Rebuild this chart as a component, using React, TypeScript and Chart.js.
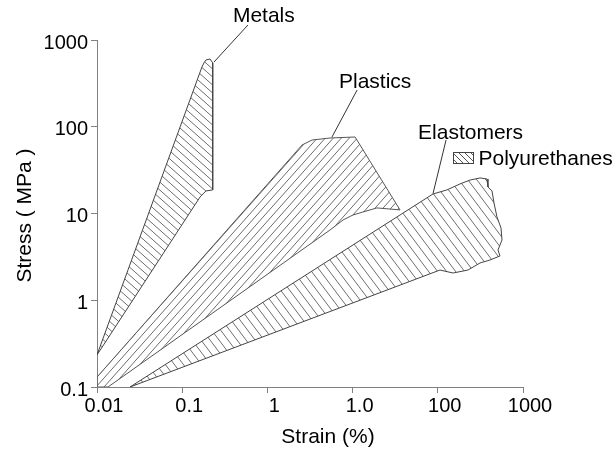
import React, { useEffect, useRef } from "react";
import { Chart, registerables } from "chart.js";

Chart.register(...registerables);

// ---------- axis ticks ----------
const X_TICKS = [0.01, 0.1, 1, 10, 100, 1000];
const X_TICK_LABELS = ["0.01", "0.1", "1", "1.0", "100", "1000"];
const Y_TICKS = [0.1, 1, 10, 100, 1000];
const Y_TICK_LABELS = ["0.1", "1", "10", "100", "1000"];

// ---------- region outlines (strain %, stress MPa) ----------
const METALS_X = [0.01, 0.1706, 0.18, 0.19, 0.212, 0.228, 0.228, 0.19, 0.162, 0.01];
const METALS_Y = [0.234, 489, 545, 588, 604, 545, 18.7, 18.2, 15.5, 0.234];

const PLASTICS_X = [0.01, 0.01, 2.11, 2.55, 3.34, 5.43, 10.7, 36.0, 19.3, 13.2, 10.1, 7.71, 5.43, 0.01346, 0.01];
const PLASTICS_Y = [0.1, 0.13, 49.8, 61.6, 70.3, 74.2, 76.2, 11.0, 11.6, 10.4, 9.61, 8.41, 6.45, 0.1, 0.1];

const ELASTOMERS_X = [0.0244, 87.9, 128, 182, 239, 313, 378, 388, 433, 457, 495, 552, 567, 509, 537, 410, 313, 226, 151, 106, 0.0244];
const ELASTOMERS_Y = [0.1, 16.8, 18.7, 21.9, 24.3, 25.7, 25.0, 20.2, 18.2, 13.2, 9.12, 6.81, 4.95, 3.8, 3.24, 2.91, 2.69, 2.23, 2.06, 2.23, 0.1];

// ---------- annotations (text anchor + leader line in data space) ----------
const ANNOTATION_TEXTS = ["Metals", "Plastics", "Elastomers"];
const ANNOTATION_TEXT_X = [0.394, 6.92, 58.6];
const ANNOTATION_TEXT_Y = [1891, 328, 84.7];
const LEADER_FROM_X = [0.591, 11.3, 125];
const LEADER_FROM_Y = [1489, 265, 70.3];
const LEADER_TO_X = [0.236, 5.73, 87.9];
const LEADER_TO_Y = [557, 76.2, 17];

const LEGEND_LABEL = "Polyurethanes";
const X_TITLE = "Strain (%)";
const Y_TITLE = "Stress ( MPa )";

const FONT_FAMILY = '"Liberation Sans", Arial, Helvetica, sans-serif';

function toPoints(xs: number[], ys: number[]) {
  return xs.map((x, i) => ({ x, y: ys[i] }));
}

function makeHatch(w: number, h: number, dir: "back" | "fwd", color: string) {
  const c = document.createElement("canvas");
  c.width = w;
  c.height = h;
  const g = c.getContext("2d")!;
  g.strokeStyle = color;
  g.lineWidth = 1;
  g.beginPath();
  for (const off of [-w, 0, w]) {
    if (dir === "back") {
      g.moveTo(off, 0);
      g.lineTo(off + w, h);
    } else {
      g.moveTo(off, h);
      g.lineTo(off + w, 0);
    }
  }
  g.stroke();
  return g.createPattern(c, "repeat")!;
}

export default function App() {
  const ref = useRef<HTMLCanvasElement | null>(null);

  useEffect(() => {
    document.body.style.margin = "0";
    const canvas = ref.current!;
    const hatchMetals = makeHatch(9, 8, "back", "#6e6e6e");
    const hatchPlastics = makeHatch(8, 9, "fwd", "#6e6e6e");
    const hatchElast = makeHatch(9, 12, "back", "#6e6e6e");
    const hatchLegend = makeHatch(6, 6, "back", "#555");

    const decor = {
      id: "decor",
      afterDraw(chart: any) {
        const { ctx, chartArea, scales } = chart;
        const xs = scales.x;
        const ys = scales.y;
        ctx.save();
        ctx.fillStyle = "#000";
        ctx.font = `21px ${FONT_FAMILY}`;
        // annotations
        ctx.textAlign = "left";
        ctx.textBaseline = "middle";
        ANNOTATION_TEXTS.forEach((t, i) => {
          ctx.fillText(t, xs.getPixelForValue(ANNOTATION_TEXT_X[i]), ys.getPixelForValue(ANNOTATION_TEXT_Y[i]));
          ctx.beginPath();
          ctx.strokeStyle = "#333";
          ctx.lineWidth = 1;
          ctx.moveTo(xs.getPixelForValue(LEADER_FROM_X[i]), ys.getPixelForValue(LEADER_FROM_Y[i]));
          ctx.lineTo(xs.getPixelForValue(LEADER_TO_X[i]), ys.getPixelForValue(LEADER_TO_Y[i]));
          ctx.stroke();
        });
        // legend
        const bx = chartArea.left + 356.5;
        const by = chartArea.top + 112.5;
        ctx.fillStyle = hatchLegend;
        ctx.fillRect(bx, by, 20, 11);
        ctx.strokeStyle = "#444";
        ctx.strokeRect(bx, by, 20, 11);
        ctx.fillStyle = "#000";
        ctx.fillText(LEGEND_LABEL, bx + 25, by + 7);
        // axis titles
        ctx.textAlign = "center";
        ctx.fillText(X_TITLE, (chartArea.left + chartArea.right) / 2 + 18, chartArea.bottom + 50);
        ctx.translate(chartArea.left - 72, (chartArea.top + chartArea.bottom) / 2 + 2);
        ctx.rotate(-Math.PI / 2);
        ctx.fillText(Y_TITLE, 0, 0);
        ctx.restore();
      },
    };

    const common = {
      showLine: true,
      fill: "shape",
      pointRadius: 0,
      pointHoverRadius: 0,
      borderWidth: 1,
      tension: 0,
    };

    const tickFont = { family: FONT_FAMILY, size: 20 };

    const chart = new Chart(canvas, {
      type: "scatter",
      data: {
        datasets: [
          { ...common, label: "Metals", data: toPoints(METALS_X, METALS_Y), backgroundColor: hatchMetals, borderColor: "#444" },
          { ...common, label: "Plastics", data: toPoints(PLASTICS_X, PLASTICS_Y), backgroundColor: hatchPlastics, borderColor: "#555" },
          { ...common, label: "Elastomers", data: toPoints(ELASTOMERS_X, ELASTOMERS_Y), backgroundColor: hatchElast, borderColor: "#444" },
        ],
      } as any,
      options: {
        animation: false,
        responsive: false,
        devicePixelRatio: 1,
        layout: { padding: { top: 40, right: 90, left: 0, bottom: 0 } },
        plugins: { legend: { display: false }, tooltip: { enabled: false } },
        events: [],
        scales: {
          x: {
            type: "logarithmic",
            min: 0.01,
            max: 1000,
            afterBuildTicks: (s: any) => {
              s.ticks = X_TICKS.map((v) => ({ value: v }));
            },
            afterFit: (s: any) => {
              s.height = 66;
            },
            ticks: {
              callback: (_v: any, i: number) => X_TICK_LABELS[i],
              font: tickFont,
              color: "#000",
              padding: 1,
              labelOffset: 7,
              autoSkip: false,
              maxRotation: 0,
            },
            grid: { drawOnChartArea: false, drawTicks: true, tickLength: 6, color: "#808080" },
            border: { color: "#808080", width: 1 },
          },
          y: {
            type: "logarithmic",
            min: 0.1,
            max: 1000,
            afterBuildTicks: (s: any) => {
              s.ticks = Y_TICKS.map((v) => ({ value: v }));
            },
            afterFit: (s: any) => {
              s.width = 97;
            },
            ticks: {
              callback: (_v: any, i: number) => Y_TICK_LABELS[i],
              font: tickFont,
              color: "#000",
              padding: 3,
              labelOffset: 3,
              autoSkip: false,
            },
            grid: { drawOnChartArea: false, drawTicks: true, tickLength: 6, color: "#808080" },
            border: { color: "#808080", width: 1 },
          },
        },
      } as any,
      plugins: [decor],
    });
    return () => chart.destroy();
  }, []);

  return <canvas ref={ref} width={613} height={453} style={{ display: "block" }} />;
}
